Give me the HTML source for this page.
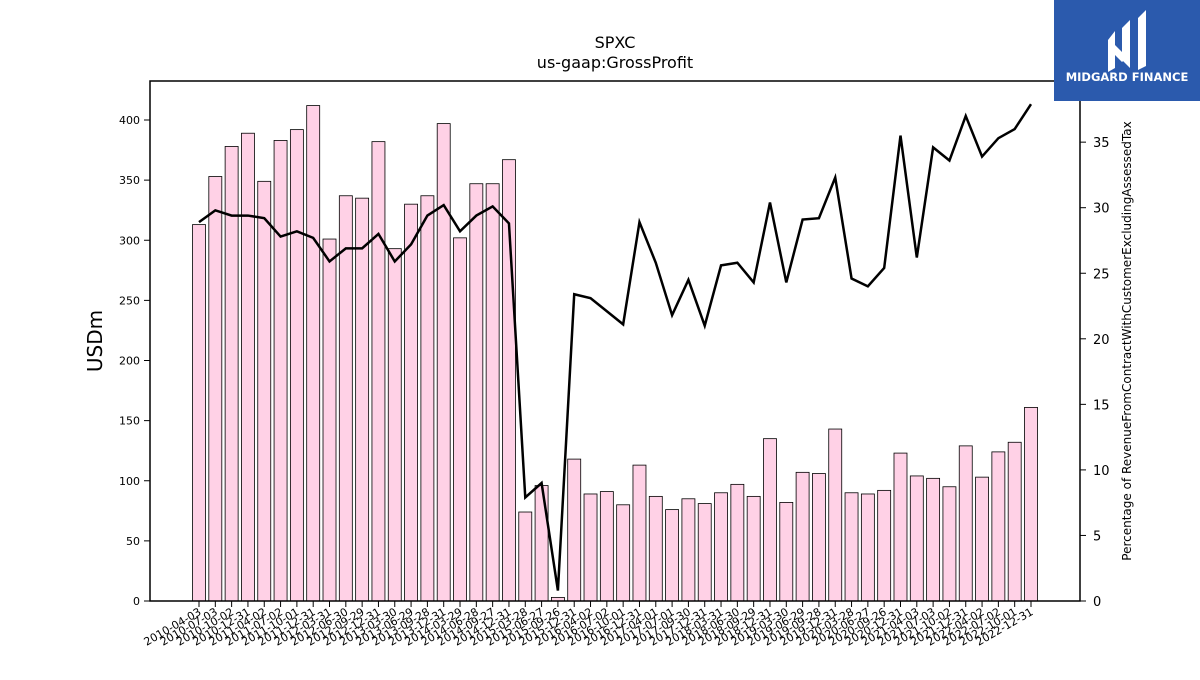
<!DOCTYPE html>
<html><head><meta charset="utf-8">
<style>
body{margin:0;background:#fff;}
svg text{font-family:"DejaVu Sans","Liberation Sans",sans-serif;}
</style></head>
<body>
<svg id="chart" width="1200" height="675" xmlns="http://www.w3.org/2000/svg">
<rect width="1200" height="675" fill="#fff"/>
<text x="615" y="48" font-size="16" text-anchor="middle">SPXC</text>
<text x="615" y="68" font-size="16" text-anchor="middle">us-gaap:GrossProfit</text>
<g id="bars"></g><g id="line"></g><g id="axes"></g>
<rect x="150" y="81" width="930" height="520" fill="none" stroke="#000" stroke-width="1.5"/>
<text transform="translate(102,341) rotate(-90)" font-size="20" text-anchor="middle">USDm</text>
<text transform="translate(1131,341) rotate(-90)" font-size="12" text-anchor="middle">Percentage of RevenueFromContractWithCustomerExcludingAssessedTax</text>
<g>
<rect x="1054" y="0" width="146" height="101" fill="#2b5aad"/>
<path d="M1108 40 L1115 31 L1115 68 L1108 72 Z M1122 28 L1130 20 L1130 68 L1122 60 Z M1138 18 L1146 10 L1146 66 L1138 70 Z M1115 45 L1122 52 L1130 45 L1130 55 L1122 62 L1115 55 Z" fill="#fff"/>
<text x="1127" y="81" font-size="11.5" font-weight="bold" fill="#fff" text-anchor="middle">MIDGARD FINANCE</text>
</g>
</svg>
<script>
const dates=["2010-04-03","2010-07-03","2010-10-02","2010-12-31","2011-04-02","2011-07-02","2011-10-01","2011-12-31","2012-03-31","2012-06-30","2012-09-29","2012-12-31","2013-03-30","2013-06-29","2013-09-28","2013-12-31","2014-03-29","2014-06-28","2014-09-27","2014-12-31","2015-03-28","2015-06-27","2015-09-26","2015-12-31","2016-04-02","2016-07-02","2016-10-01","2016-12-31","2017-04-01","2017-07-01","2017-09-30","2017-12-31","2018-03-31","2018-06-30","2018-09-29","2018-12-31","2019-03-30","2019-06-29","2019-09-28","2019-12-31","2020-03-28","2020-06-27","2020-09-26","2020-12-31","2021-04-03","2021-07-03","2021-10-02","2021-12-31","2022-04-02","2022-07-02","2022-10-01","2022-12-31"];
const grossProfit=[313,353,378,389,349,383,392,412,301,337,335,382,293,330,337,397,302,347,347,367,74,96,3,118,89,91,80,113,87,76,85,81,90,97,87,135,82,107,106,143,90,89,92,123,104,102,95,129,103,124,132,161];
const marginPct=[28.9,29.8,29.4,29.4,29.2,27.8,28.2,27.7,25.9,26.9,26.9,28.0,25.9,27.2,29.4,30.2,28.2,29.4,30.1,28.8,7.9,9.0,0.8,23.4,23.1,22.1,21.1,28.9,25.8,21.8,24.5,21.0,25.6,25.8,24.3,30.4,24.3,29.1,29.2,32.3,24.6,24.0,25.4,35.5,26.2,34.6,33.6,37.0,33.9,35.3,36.0,37.9];
const leftTicks=[0,50,100,150,200,250,300,350,400];
const rightTicks=[0,5,10,15,20,25,30,35];
const NS="http://www.w3.org/2000/svg";
const x0=199,step=(1031-199)/51,bw=13;
const xS=i=>x0+i*step;
const yL=v=>601-v*1.2025;
const yR=v=>601-v*13.11;
function mk(t,a,p){const e=document.createElementNS(NS,t);for(const k in a)e.setAttribute(k,a[k]);p.appendChild(e);return e;}
const bars=document.getElementById('bars'),line=document.getElementById('line'),axes=document.getElementById('axes');
grossProfit.forEach((v,i)=>{
 const r=mk('rect',{x:xS(i)-bw/2,y:yL(v),width:bw,height:601-yL(v),fill:'#ffd1e6',stroke:'#000','stroke-width':0.8},bars);
 
 
});
const pl=mk('polyline',{points:marginPct.map((v,i)=>xS(i)+','+yR(v)).join(' '),fill:'none',stroke:'#000','stroke-width':2.5},line);


leftTicks.forEach(v=>{
 mk('line',{x1:144,x2:150,y1:yL(v),y2:yL(v),stroke:'#000'},axes);
 const t=mk('text',{x:140,y:yL(v)+4,'font-size':11,'text-anchor':'end'},axes);t.textContent=v;
 
 
});
rightTicks.forEach(v=>{
 mk('line',{x1:1080,x2:1086,y1:yR(v),y2:yR(v),stroke:'#000'},axes);
 const t=mk('text',{x:1093,y:yR(v)+5,'font-size':13},axes);t.textContent=v;
 
 
});
dates.forEach((d,i)=>{
 const x=xS(i);
 mk('line',{x1:x,x2:x,y1:601,y2:607,stroke:'#000'},axes);
 const t=mk('text',{x:x+3,y:614,'font-size':11,'text-anchor':'end',transform:'rotate(-30 '+(x+3)+' 614)'},axes);t.textContent=d;
 
 
});
</script>
</body></html>
